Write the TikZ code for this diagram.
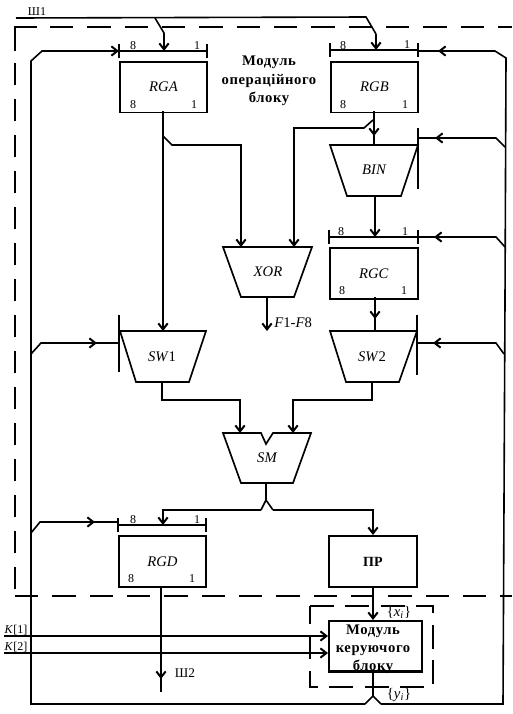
\documentclass[tikz,border=0pt]{standalone}
\usepackage{fontspec}
\setmainfont{Liberation Serif}
\usetikzlibrary{arrows.meta}
\tikzset{
  px/.style={x=0.75pt,y=-0.75pt},
  wire/.style={line width=1.2pt,line join=miter},
  arr/.style={wire,-{Straight Barb[length=4.5pt,width=7pt,line width=1.5pt]}},
  dsh/.style={line width=1.25pt,dash pattern=on 17.5pt off 10.5pt},
  dshv/.style={line width=1.25pt,dash pattern=on 16.5pt off 10.5pt},
  dshb/.style={line width=1.15pt,dash pattern=on 18pt off 8.6pt},
  blk/.style={line width=1.25pt},
  lab/.style={inner sep=0pt,font=\fontsize{9}{9}\selectfont},
  nm/.style={inner sep=0pt,font=\fontsize{11}{11}\selectfont\itshape},
  ttl/.style={inner sep=0pt,align=center,font=\fontsize{11}{14}\selectfont\bfseries\addfontfeatures{LetterSpace=4}},
  rgbox/.style={draw,blk,minimum width=65.5pt,minimum height=38pt,inner sep=0pt,anchor=north west,font=\fontsize{11}{11}\selectfont\itshape},
}
\begin{document}
\begin{tikzpicture}[px]
\useasboundingbox (0,0) rectangle (512,714);
% frames
\draw[line width=1.25pt] (15,51) -- (15,27) -- (37,27);
\draw[dsh] (50,27) -- (512,27);
\draw[dshv] (15,63) -- (15,589);
\draw[dsh] (15,596) -- (512,596);
% bus
\coordinate (sh1a) at (16,18);
\coordinate (sh1b) at (366,17);
\coordinate (sh1c) at (376,34);
\draw[wire] (sh1a) -- (sh1b) -- (sh1c);
\node[inner sep=0pt,font=\fontsize{9}{9}\selectfont] (shone) at (37,12) {Ш1};
% boxes
\node[rgbox] (rga) at (119,61) {RGA};
\node[rgbox] (rgb) at (330,61) {RGB};
\node[rgbox,minimum height=38.5pt,minimum width=66pt] (rgc) at (329,247) {RGC};
\node[rgbox,minimum height=38.5pt] (rgd) at (118,535) {RGD};
\node[rgbox,minimum height=38.5pt,minimum width=66pt,font=\fontsize{10.5}{11}\selectfont\bfseries] (pr) at (328,535) {ПР};
\node[rgbox,minimum width=70pt,minimum height=37.5pt] (cu) at (328,620) {};
\node[inner sep=0pt,align=center,anchor=north,font=\fontsize{11}{13.2}\selectfont\bfseries\addfontfeatures{LetterSpace=4}] (cutxt) at (373,625) {Модуль\\керуючого\\блоку};
\draw[line width=1.7pt] (cu.south west) -- (cu.south east);
% trapezoids
\draw[blk] (330,145) -- (418,145) -- (401,196) -- (347,196) -- cycle;
\node[nm] (bin) at (374,170) {BIN};
\draw[blk] (223,247) -- (312,247) -- (294,297) -- (241,297) -- cycle;
\node[nm] (xor) at (268,272) {XOR};
\draw[blk] (120,331) -- (206,331) -- (189,382) -- (136,382) -- cycle;
\node[nm] (swone) at (162,357) {SW\textup{1}};
\draw[blk] (330,331) -- (417,331) -- (399,382) -- (346,382) -- cycle;
\node[nm] (swtwo) at (372,357) {SW\textup{2}};
\draw[blk] (223,433) -- (261,433) -- (266,444) -- (273,433) -- (311,433) -- (293,483) -- (241,483) -- cycle;
\node[nm] (sm) at (267,458) {SM};
% bars
\foreach \xa/\xb/\y in {119/207/51,330/418/50,329/418/237,118/206/525}{
  \draw[blk] (\xa,\y) -- (\xb,\y);
  \draw[blk] (\xa,\y-7) -- (\xa,\y+7);
  \draw[blk] (\xb,\y-7) -- (\xb,\y+7);
}
\node[lab] at (133,46) {8}; \node[lab] at (197,46) {1};
\node[lab] at (133,105) {8}; \node[lab] at (194,105) {1};
\node[lab] at (343,46) {8}; \node[lab] at (407,45) {1};
\node[lab] at (343,105) {8}; \node[lab] at (405,105) {1};
\node[lab] at (341,232) {8}; \node[lab] at (405,232) {1};
\node[lab] at (342,291) {8}; \node[lab] at (404,291) {1};
\node[lab] at (133,520) {8}; \node[lab] at (197,520) {1};
\node[lab] at (131,579) {8}; \node[lab] at (192,579) {1};
\draw[blk] (418,128) -- (418,189);
\draw[blk] (119,315) -- (119,372);
\draw[blk] (417,315) -- (417,375);
% control lines
\draw[wire] (419,51) -- (495,51) -- (506,58) -- (505,300) -- (503,704) -- (381,704);
\draw[wire] (365,704) -- (31,704) -- (31,61) -- (42,51) -- (119,51);
\draw[wire] (418,138) -- (496,138) -- (505,147);
\draw[wire] (418,237) -- (496,237) -- (505,247);
\draw[wire] (417,343) -- (496,343) -- (504,354);
\draw[wire] (31,354) -- (41,343) -- (119,343);
\draw[wire] (31,533) -- (40,522) -- (118,522);
\draw[arr] (446,51) -- (438,51);
\draw[arr] (443,138) -- (435,138);
\draw[arr] (442,237) -- (434,237);
\draw[arr] (441,343) -- (433,343);
\draw[arr] (89,343) -- (97,343);
\draw[arr] (87,522) -- (95,522);
\draw[arr] (111,51) -- (119,51);
% drops
\draw[arr] (155,18) -- (164,33) -- (164,51);
\draw[arr] (376,34) -- (376,50);
% RGA
\draw[arr] (163,111) -- (163,331);
\draw[arr] (163,136) -- (172,145) -- (241,145) -- (241,247);
% RGB
\draw[wire] (374,111) -- (374,145);
\draw[arr] (374,127) -- (374,136);
\draw[arr] (373,120) -- (364,128) -- (294,128) -- (294,247);
% BIN
\draw[arr] (375,196) -- (375,237);
% RGC
\draw[wire] (375,297) -- (375,331);
\draw[arr] (375,310) -- (375,319);
% XOR
\draw[arr] (267,297) -- (267,331);
\node[inner sep=0pt,anchor=west,font=\fontsize{11}{11}\selectfont] (f) at (274,323) {\textit{F}1-\textit{F}8};
% SW
\draw[arr] (162,382) -- (162,400) -- (240,400) -- (240,433);
\draw[arr] (372,382) -- (372,400) -- (293,400) -- (293,433);
% SM
\draw[wire] (266,483) -- (266,500);
\draw[arr] (261,510) -- (163,510) -- (163,525);
\draw[wire] (261,510) -- (266,500) -- (273,510);
\draw[arr] (273,510) -- (373,510) -- (373,535);
% RGD
\draw[wire] (161,586) -- (161,692);
\draw[arr] (161,670) -- (161,679);
\node[inner sep=0pt,font=\fontsize{10}{10}\selectfont] (shtwo) at (185,673) {Ш2};
% PR
\draw[arr] (373,586) -- (373,620);
% K
\draw[arr] (4,636) -- (328,636);
\draw[arr] (4,653) -- (328,653);
\node[inner sep=0pt,font=\fontsize{9}{9}\selectfont] (k1) at (16,630) {\textit{K}[1]};
\node[inner sep=0pt,font=\fontsize{9}{9}\selectfont] (k2) at (16,647) {\textit{K}[2]};
% control dashed
\draw[dshb] (310,606) -- (433,606) -- (433,687) -- (310,687) -- cycle;
% CU out
\draw[wire] (373,670) -- (373,696);
\draw[wire] (365,704) -- (373,696) -- (381,704);
% xi yi
\node[inner sep=0pt,font=\fontsize{11}{11}\selectfont] (xi) at (399,612) {\{\textit{x}\textsubscript{\textit{i}}\}};
\node[inner sep=0pt,font=\fontsize{11}{11}\selectfont] (yi) at (399,695) {\{\textit{y}\textsubscript{\textit{i}}\}};
% title
\node[ttl] (title) at (269,81) {Модуль\\операційного\\блоку\hspace{9pt}};
\end{tikzpicture}
\end{document}
